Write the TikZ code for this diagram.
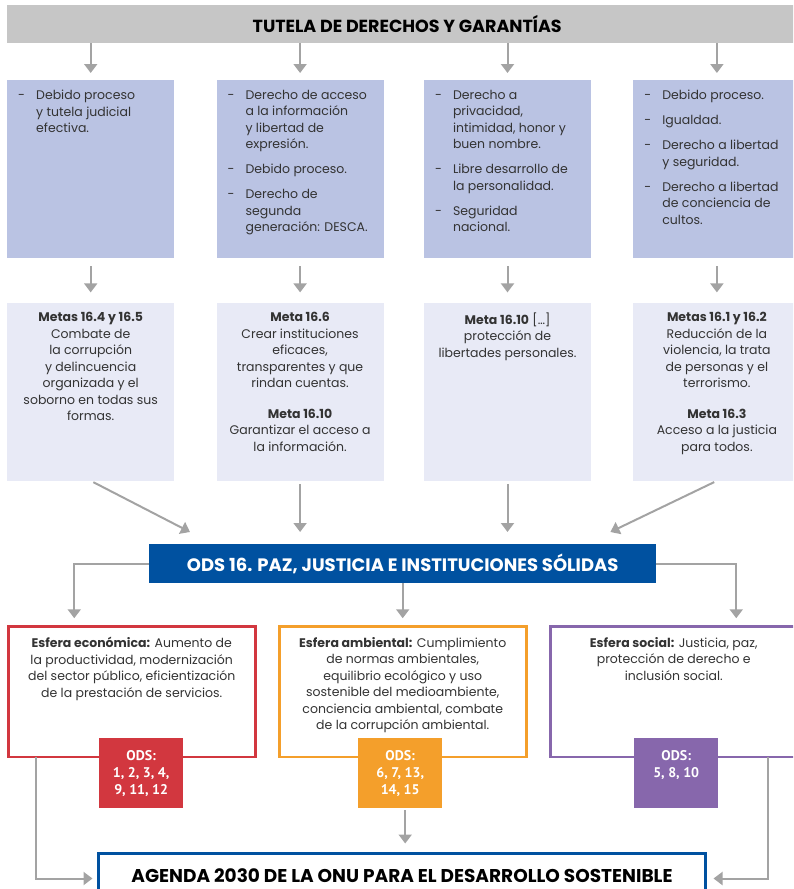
\documentclass[tikz,border=0pt]{standalone}
\usepackage{fontspec}
\setmainfont{Poppins}
\newfontfamily\odsfont{PT Sans}
\usetikzlibrary{arrows.meta,positioning}

\definecolor{bargray}{HTML}{C6C6C6}
\definecolor{linegray}{HTML}{A3A3A3}
\definecolor{rightsblue}{HTML}{BAC3E3}
\definecolor{goalsblue}{HTML}{E8EAF6}
\definecolor{odsblue}{HTML}{0051A0}
\definecolor{ecored}{HTML}{D2373F}
\definecolor{amborange}{HTML}{F49F2B}
\definecolor{socpurple}{HTML}{8767AC}
\definecolor{bodytext}{HTML}{333333}

% list item with hanging dash, and text block pinned to the top of a box
\newcommand{\itm}[1]{\par\hangindent=18pt\hangafter=1\noindent\makebox[18pt][l]{-}#1}
\newcommand{\toptext}[3]{\parbox[t][#1][t]{#2}{#3}}

\tikzstyle{title} = [rectangle, fill=bargray, anchor=north west, minimum width=800pt,
minimum height=38pt, font=\fontsize{17.5}{20}\selectfont\bfseries]
\tikzstyle{rights} = [rectangle, fill=rightsblue, text=bodytext, minimum width=167pt,
minimum height=178pt, inner xsep=11pt, inner ysep=10pt, font=\fontsize{12.5}{16.5}\selectfont]
\tikzstyle{goals} = [rights, fill=goalsblue]
\tikzstyle{odsbar} = [rectangle, fill=odsblue, text=white, anchor=north west, minimum width=507pt,
minimum height=39pt, font=\fontsize{18}{20}\selectfont\bfseries]
\tikzstyle{sphere} = [rectangle, draw, line width=2.5pt, outer sep=0pt, fill=white, text=bodytext,
minimum width=247pt, minimum height=130.5pt, inner xsep=6pt, inner ysep=11pt, font=\fontsize{12.5}{16.5}\selectfont]
\tikzstyle{odsbox} = [rectangle, text=white, anchor=north west, minimum width=84pt, minimum height=70pt,
inner xsep=0pt, inner ysep=12pt, font=\odsfont\bfseries\fontsize{14}{17}\selectfont]
\tikzstyle{agenda} = [rectangle, draw=odsblue, line width=3pt, outer sep=0pt, fill=white, anchor=north west,
minimum width=607pt, minimum height=44pt, font=\fontsize{18.5}{20}\selectfont\bfseries]
\tikzstyle{line} = [draw=linegray, line width=2pt, -{Triangle[length=9pt,width=13pt]}]

\begin{document}
\begin{tikzpicture}[x=1pt, y=-1pt]
\useasboundingbox (0,0) rectangle (793,889);
\clip (0,0) rectangle (793,889);

\node [title] (tutela) at (7,5) {TUTELA DE DERECHOS Y GARANTÍAS};

% rights
\node [rights, anchor=north west] (der1) at (7,80) {\toptext{158pt}{145pt}{\rightskip=0pt plus 1fil
\itm{Debido proceso\\ y tutela judicial\\ efectiva.}}};
\node [rights, right=42pt of der1] (der2) {\toptext{158pt}{145pt}{\rightskip=0pt plus 1fil\setlength{\parskip}{8.5pt}
\itm{Derecho de acceso\\ a la información\\ y libertad de\\ expresión.}
\itm{Debido proceso.}
\itm{Derecho de\\ segunda\\ generación: DESCA.}}};
\node [rights, right=40pt of der2] (der3) {\toptext{158pt}{145pt}{\rightskip=0pt plus 1fil\setlength{\parskip}{8.5pt}
\itm{Derecho a\\ privacidad,\\ intimidad, honor y\\ buen nombre.}
\itm{Libre desarrollo de\\ la personalidad.}
\itm{Seguridad\\ nacional.}}};
\node [rights, right=42pt of der3] (der4) {\toptext{158pt}{145pt}{\rightskip=0pt plus 1fil\setlength{\parskip}{8.5pt}
\itm{Debido proceso.}
\itm{Igualdad.}
\itm{Derecho a libertad\\ y seguridad.}
\itm{Derecho a libertad\\ de conciencia de\\ cultos.}}};

% goals
\node [goals, below=44pt of der1] (meta1) {\toptext{158pt}{145pt}{\centering
\textbf{Metas 16.4 y 16.5}\\ Combate de\\ la corrupción\\ y delincuencia\\ organizada y el\\ soborno en todas sus\\ formas.}};
\node [goals, below=44pt of der2] (meta2) {\toptext{158pt}{145pt}{\centering
\textbf{Meta 16.6}\\ Crear instituciones\\ eficaces,\\ transparentes y que\\ rindan cuentas.\\[14pt]
\textbf{Meta 16.10}\\ Garantizar el acceso a\\ la información.}};
\node [goals, below=44pt of der3] (meta3) {\toptext{158pt}{145pt}{\centering
\textbf{Meta 16.10} [\ldots]\\ protección de\\ libertades personales.}};
\node [goals, below=44pt of der4] (meta4) {\toptext{158pt}{145pt}{\centering
\textbf{Metas 16.1 y 16.2}\\ Reducción de la\\ violencia, la trata\\ de personas y el\\ terrorismo.\\[14pt]
\textbf{Meta 16.3}\\ Acceso a la justicia\\ para todos.}};

\node [odsbar] (ods) at (149,544) {ODS 16. PAZ, JUSTICIA E INSTITUCIONES SÓLIDAS};

% spheres
\node [sphere, draw=ecored, anchor=north west] (eco) at (8.25,626.25) {\toptext{108.5pt}{235pt}{\centering
\textbf{Esfera económica:} Aumento de\\ la productividad, modernización\\ del sector público, eficientización\\ de la prestación de servicios.}};
\node [sphere, draw=amborange, right=24pt of eco] (amb) {\toptext{108.5pt}{235pt}{\centering
\textbf{Esfera ambiental:} Cumplimiento\\ de normas ambientales,\\ equilibrio ecológico y uso\\ sostenible del medioambiente,\\ conciencia ambiental, combate\\ de la corrupción ambiental.}};
\node [sphere, draw=socpurple, right=24pt of amb] (soc) {\toptext{108.5pt}{235pt}{\centering
\textbf{Esfera social:} Justicia, paz,\\ protección de derecho e\\ inclusión social.}};

\node [odsbox, fill=ecored] (ecoods) at (99,738) {\toptext{46pt}{84pt}{\centering ODS:\\ 1, 2, 3, 4,\\ 9, 11, 12}};
\node [odsbox, fill=amborange] (ambods) at (358,738) {\toptext{46pt}{84pt}{\centering ODS:\\ 6, 7, 13,\\ 14, 15}};
\node [odsbox, fill=socpurple] (socods) at (634,738) {\toptext{46pt}{84pt}{\centering ODS:\\ 5, 8, 10}};

\node [agenda] (agenda) at (98.5,853.5) {AGENDA 2030 DE LA ONU PARA EL DESARROLLO SOSTENIBLE};

% connectors
\foreach \k in {1,...,4} {
  \path [line, shorten >=7pt] (der\k.north |- tutela.south) -- (der\k.north);
  \path [line, shorten <=8pt, shorten >=10pt] (der\k.south) -- (meta\k.north);
}
\coordinate (odsin1) at ([shift={(41,-12)}]ods.north west);
\coordinate (odsin4) at ([shift={(-46,-12)}]ods.north east);
\path [line, shorten <=3pt] (meta1.south) -- (odsin1);
\path [line, shorten <=3pt, shorten >=12pt] (meta2.south) -- (meta2.south |- ods.north);
\path [line, shorten <=3pt, shorten >=12pt] (meta3.south) -- (meta3.south |- ods.north);
\path [line, shorten <=3pt] (meta4.south) -- (odsin4);

\coordinate (ecoin) at ([shift={(66,0)}]eco.north west);
\coordinate (socin) at ([shift={(186,0)}]soc.north west);
\path [line, shorten >=8pt] (ods.west) -| (ecoin);
\path [line, shorten >=8pt] (ods.south) -- (ods.south |- amb.north);
\path [line, shorten >=8pt] (ods.east) -| (socin);

\coordinate (ecoout) at ([shift={(28,0)}]eco.south west);
\coordinate (ambout) at ([shift={(5,0)}]ambods.south);
\coordinate (socout) at ([shift={(218,0)}]soc.south west);
\coordinate (agin) at ([shift={(0,3)}]agenda.west);
\coordinate (agout) at ([shift={(0,3)}]agenda.east);
\path [line, shorten >=6pt] (ecoout) |- (agin);
\path [line, shorten <=2pt, shorten >=10pt] (ambout) -- (ambout |- agenda.north);
\path [line, shorten >=8pt] (socout) |- (agout);
\end{tikzpicture}
\end{document}
